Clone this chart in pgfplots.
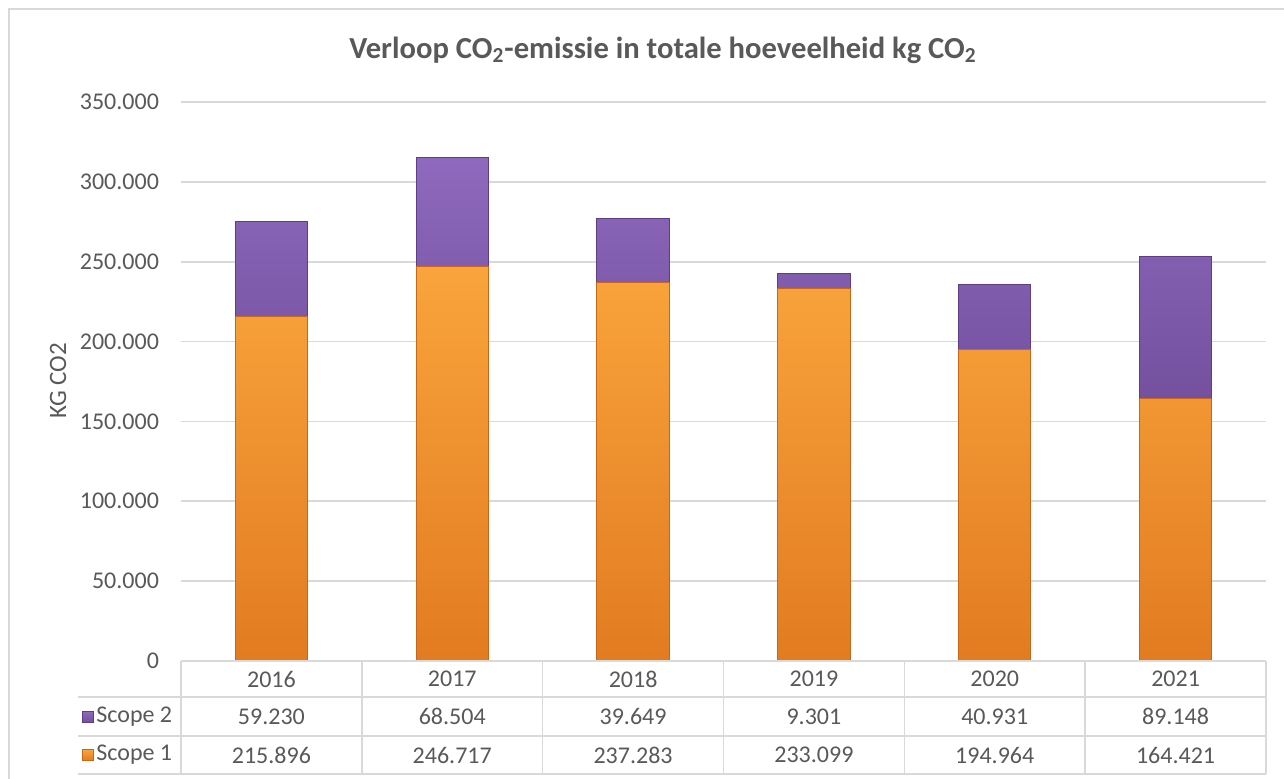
\documentclass[border=0pt]{standalone}
\usepackage{pgfplots}
\pgfplotsset{compat=1.18}
\usepackage{pgfplotstable}
\usepackage{fontspec}
\setmainfont{Carlito}
\definecolor{txt}{HTML}{595959}
\definecolor{gridc}{HTML}{D9D9D9}
\definecolor{orTop}{HTML}{F9A43C}
\definecolor{orBot}{HTML}{E27B21}
\definecolor{orEdge}{HTML}{C8661A}
\definecolor{puTop}{HTML}{8E69BD}
\definecolor{puBot}{HTML}{74509F}
\definecolor{puEdge}{HTML}{5E3E86}
\pgfplotstableread{
x s1 s2
0 215896 59230
1 246717 68504
2 237283 39649
3 233099 9301
4 194964 40931
5 164421 89148
}\data
\begin{document}
\begin{tikzpicture}
\path[use as bounding box] (0,0) rectangle (642pt,389pt);
\begin{axis}[
  at={(90.5pt,58.5pt)}, anchor=south west,
  scale only axis, width=542.5pt, height=279.5pt,
  xmin=-0.5, xmax=5.5, ymin=0, ymax=350000,
  ybar stacked, bar width=0.4,
  axis line style={draw=none},
  xtick=\empty,
  scaled y ticks=false,
  ytick={0,50000,100000,150000,200000,250000,300000,350000},
  yticklabels={0,50.000,100.000,150.000,200.000,250.000,300.000,350.000},
  ymajorgrids, grid style={gridc, line width=0.8pt},
  major tick length=0pt,
  yticklabel style={font=\fontsize{12}{14}\selectfont, text=txt, xshift=-7.5pt},
]
\addplot+[ybar, draw=orEdge, line width=0.5pt, top color=orTop, bottom color=orBot] table[x=x,y=s1]{\data};
\addplot+[ybar, draw=puEdge, line width=0.5pt, top color=puTop, bottom color=puBot] table[x=x,y=s2]{\data};
\end{axis}
\begin{scope}[x=0.5pt, y=-0.5pt, shift={(0pt,389pt)}]
  % outer frame
  \draw[gridc, line width=1pt] (8.5,800) -- (8.5,9.5) -- (1300,9.5);
  % title
  \node[text=txt, font=\fontsize{15.3}{18}\selectfont\bfseries] at (663,50) {Verloop CO\textsubscript{2}-emissie in totale hoeveelheid kg CO\textsubscript{2}};
  % y label
  \node[text=txt, font=\fontsize{12.5}{14}\selectfont, rotate=90] at (58,381) {KG CO2};
  % data table lines
  \draw[gridc, line width=0.8pt] (181,661) -- (1266,661);
  \foreach \yy in {697,736,774} \draw[gridc, line width=0.8pt] (78,\yy) -- (1266,\yy);
  \foreach \i in {0,...,6} \draw[gridc, line width=0.8pt] ({181+\i*180.833},661) -- ({181+\i*180.833},774);
  % header
  \foreach \yr [count=\i from 0] in {2016,2017,2018,2019,2020,2021}
    \node[text=txt, font=\fontsize{12}{14}\selectfont] at ({181+(\i+0.5)*180.833},679) {\yr};
  \foreach \v [count=\i from 0] in {59.230,68.504,39.649,9.301,40.931,89.148}
    \node[text=txt, font=\fontsize{12}{14}\selectfont] at ({181+(\i+0.5)*180.833},716.5) {\v};
  \foreach \v [count=\i from 0] in {215.896,246.717,237.283,233.099,194.964,164.421}
    \node[text=txt, font=\fontsize{12}{14}\selectfont] at ({181+(\i+0.5)*180.833},755) {\v};
  % legend column
  \draw[draw=puEdge, line width=0.4pt, top color=puTop, bottom color=puBot] (82,711) rectangle (93,722);
  \draw[draw=orEdge, line width=0.4pt, top color=orTop, bottom color=orBot] (82,749.5) rectangle (93,760.5);
  \node[text=txt, font=\fontsize{12}{14}\selectfont, anchor=west, inner sep=0pt] at (96,716.5) {Scope 2};
  \node[text=txt, font=\fontsize{12}{14}\selectfont, anchor=west, inner sep=0pt] at (96,755) {Scope 1};
\end{scope}
\end{tikzpicture}
\end{document}
